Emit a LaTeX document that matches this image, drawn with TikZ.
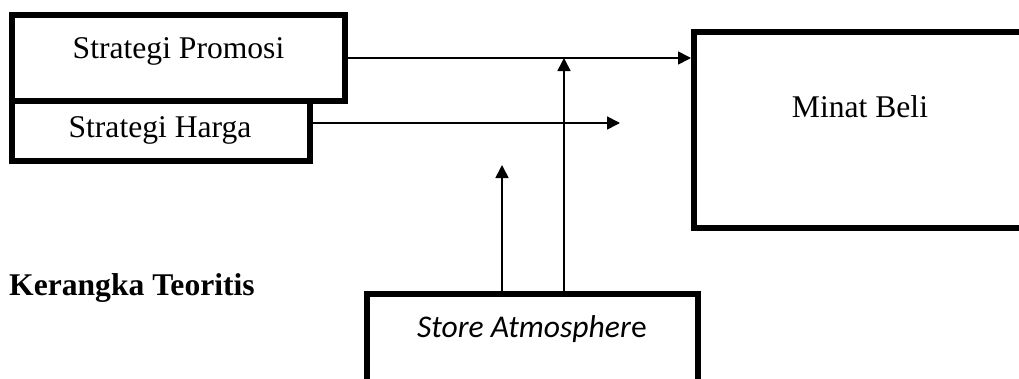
\documentclass[tikz,border=0pt]{standalone}
\usepackage{fontspec}
\setmainfont{Liberation Serif}
\newfontfamily\sansbody{Carlito}
\usetikzlibrary{arrows.meta}

\tikzset{
  varbox/.style={draw, rectangle, line width=6pt, inner sep=0pt},
  flow/.style={line width=1.7pt, -{Triangle[length=13pt,width=13pt]}},
  boxtext/.style={anchor=base, inner sep=0pt, font=\fontsize{31.6}{38}\selectfont}
}

\begin{document}
\begin{tikzpicture}[x=1pt,y=-1pt]
\useasboundingbox (0,0) rectangle (1019,378);
\clip (0,0) rectangle (1019,378);
% variable boxes (sizes measured on the centre line of the border)
\node[varbox, minimum width=333pt, minimum height=86pt] (promosi) at (178.5,58) {};
\node[varbox, minimum width=298pt, minimum height=60pt] (harga) at (161,131) {};
\node[varbox, minimum width=332pt, minimum height=196pt] (minat) at (860,130) {};
\node[varbox, minimum width=331pt, minimum height=106pt] (store) at (532.5,347) {};

% texts
\node[boxtext] (promosiTxt) at (178.5,58) {Strategi Promosi};
\node[boxtext] (hargaTxt) at (160,137) {Strategi Harga};
\node[boxtext] (minatTxt) at (860,117) {Minat Beli};
\node[boxtext, font=\sansbody\fontsize{31.6}{38}\selectfont] (storeTxt) at (532,337) {\textit{Store Atmospher}e};
\node[boxtext, anchor=base west, font=\bfseries\fontsize{31.6}{38}\selectfont] (judul) at (9,295) {Kerangka Teoritis};

% connectors
\coordinate (hitP) at (564,58);
\coordinate (tipH) at (620,123);
\coordinate (tipS) at (502,165);
\draw[flow] (promosi.east) -- (promosi.east -| minat.west);
\draw[flow] (harga.east |- tipH) -- (tipH);
\draw[flow] (hitP |- store.north) -- (hitP);
\draw[flow] (tipS |- store.north) -- (tipS);
\end{tikzpicture}
\end{document}
